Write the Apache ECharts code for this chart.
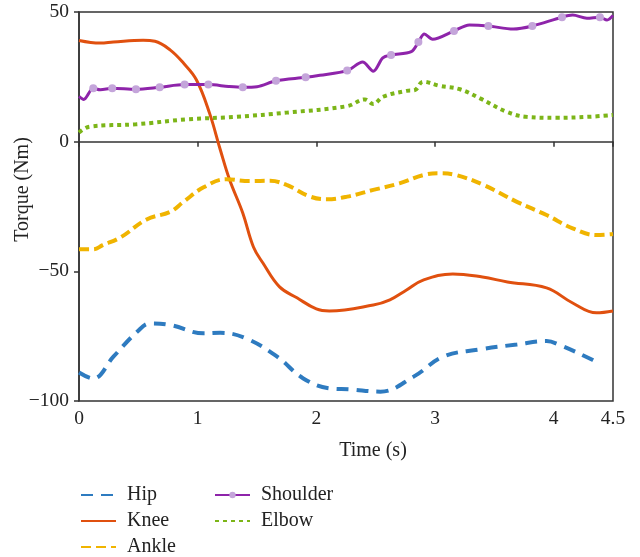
<!DOCTYPE html>
<html><head><meta charset="utf-8">
<script src="https://cdn.jsdelivr.net/npm/echarts@6/dist/echarts.min.js"></script>
<style>html,body{margin:0;padding:0;background:#fff}#c{width:640px;height:557px}</style>
</head><body><div id="c"></div>
<script>
const hipT = [0, 0.12, 0.29, 0.49, 0.6, 0.77, 1.05, 1.19, 1.41, 1.67, 1.89, 2.11, 2.28, 2.54, 2.82, 3.07, 3.38, 3.69, 3.94, 4.05, 4.33, 4.37];
const hipV = [-89, -91.3, -82.9, -73.3, -70.1, -70.7, -73.9, -73.7, -75.9, -82.9, -91.3, -95.1, -95.5, -96.4, -90.6, -82.9, -80.1, -78.2, -76.9, -78.4, -84.2, -85.5];
const kneeT = [0, 0.18, 0.29, 0.54, 0.64, 0.77, 0.88, 0.99, 1.10, 1.19, 1.27, 1.38, 1.47, 1.55, 1.69, 1.84, 2.0, 2.11, 2.48, 2.62, 2.76, 2.90, 3.15, 3.40, 3.61, 3.94, 4.16, 4.36, 4.5];
const kneeV = [39, 38, 38.4, 39.1, 38.7, 35.3, 30.3, 23.8, 11, -3, -14.8, -27.5, -40.6, -46.8, -56, -60.3, -64.5, -65.3, -63, -61, -57.2, -53.4, -51, -52.2, -54.1, -56.4, -62.2, -66, -65.3];
const ankleT = [0, 0.12, 0.20, 0.35, 0.57, 0.77, 0.88, 1.05, 1.24, 1.44, 1.61, 1.75, 1.95, 2.09, 2.26, 2.48, 2.70, 2.90, 3.04, 3.18, 3.41, 3.69, 3.94, 4.16, 4.36, 4.5];
const ankleV = [-41.5, -41.5, -39.9, -36.9, -30, -27, -23.2, -17.6, -14.5, -15.2, -15.1, -16.7, -21.2, -22.2, -21.2, -18.6, -16.1, -12.9, -12.2, -12.9, -16.7, -23.2, -28.3, -33.4, -36, -35.6];
const shoulderT = [0, 0.04, 0.12, 0.18, 0.28, 0.48, 0.68, 0.89, 1.09, 1.26, 1.38, 1.50, 1.66, 1.91, 2.03, 2.26, 2.39, 2.48, 2.56, 2.63, 2.80, 2.86, 2.91, 2.98, 3.16, 3.29, 3.45, 3.66, 3.82, 4.07, 4.16, 4.28, 4.39, 4.45, 4.5];
const shoulderV = [17.5, 16.3, 20.6, 20, 20.6, 20.2, 21, 22, 22, 21.3, 21.0, 21.2, 23.5, 24.8, 25.6, 27.4, 30.7, 27.2, 32.3, 33.4, 34.7, 38.4, 41.5, 39.5, 42.7, 45, 44.6, 43.4, 44.6, 48, 48.8, 47.6, 48, 46.9, 48.7];
const shoulderMarkT = [0.12, 0.28, 0.48, 0.68, 0.89, 1.09, 1.38, 1.66, 1.91, 2.26, 2.63, 2.86, 3.16, 3.45, 3.82, 4.07, 4.39];
const elbowT = [0, 0.09, 0.48, 0.91, 1.33, 1.75, 2.26, 2.41, 2.48, 2.56, 2.76, 2.83, 2.90, 3.04, 3.21, 3.38, 3.60, 3.77, 4.02, 4.30, 4.5];
const elbowV = [3.5, 5.8, 6.7, 8.6, 9.6, 11.2, 13.7, 16.3, 14.5, 17.3, 19.6, 19.9, 23.1, 21.5, 20.2, 16.7, 11.6, 9.6, 9.2, 9.6, 10.3];
const xTicks = {min: 0, max: 4.5, interval: 1};
const yTicks = {min: -100, max: 50, interval: 50};

const pairs = (t, v) => t.map((x, i) => [x, v[i]]);
const FONT = 'Liberation Serif';
const chart = echarts.init(document.getElementById('c'));
const lbl = {color: '#222', fontFamily: FONT, fontSize: 19.5, formatter: v => String(v).replace('-', '\u2212')};
const axisCommon = {
  axisLine: {lineStyle: {color: '#333', width: 1.5}},
  axisTick: {lineStyle: {color: '#333', width: 1.5}, length: 5},
  splitLine: {show: false},
  nameMoveOverlap: false
};
const noSym = {itemStyle: {opacity: 0, color: 'rgba(0,0,0,0)'}};
const legText = {fontFamily: FONT, fontSize: 20, color: '#222', padding: [0, 0, 0, 6]};
chart.setOption({
  animation: false,
  grid: {left: 79, right: 27, top: 12, bottom: 156, show: true, borderColor: '#333', borderWidth: 1.5,
         containLabel: false, outerBoundsMode: 'none'},
  xAxis: Object.assign({type: 'value', name: 'Time (s)', nameLocation: 'middle', nameGap: 40,
    nameTextStyle: {color: '#222', fontFamily: FONT, fontSize: 20, padding: [0, 0, 0, 54]}}, xTicks, axisCommon,
    {axisLabel: Object.assign({}, lbl, {showMaxLabel: true, margin: 8})}),
  yAxis: Object.assign({type: 'value', name: 'Torque (Nm)', nameLocation: 'middle', nameGap: 46, nameRotate: 90,
    nameTextStyle: {color: '#222', fontFamily: FONT, fontSize: 20, padding: [0, 0, 0, 34]}}, yTicks, axisCommon,
    {axisLabel: Object.assign({}, lbl, {margin: 10})}),
  legend: [
    {data: [Object.assign({name: 'Hip'}, noSym), Object.assign({name: 'Knee'}, noSym), Object.assign({name: 'Ankle'}, noSym)],
     orient: 'vertical', left: 75, top: 480, height: 100, itemWidth: 35, itemHeight: 14, itemGap: 6, textStyle: legText},
    {data: ['Shoulder', Object.assign({name: 'Elbow'}, noSym)],
     orient: 'vertical', left: 209, top: 480, height: 100, itemWidth: 35, itemHeight: 8, itemGap: 6, textStyle: legText}
  ],
  series: [
    {name: 'Hip', type: 'line', smooth: 0.4, symbol: 'none', data: pairs(hipT, hipV),
     lineStyle: {color: '#2e7bc0', width: 4, type: [12, 8]}, itemStyle: {color: '#2e7bc0'}},
    {name: 'Knee', type: 'line', smooth: 0.4, symbol: 'none', data: pairs(kneeT, kneeV),
     lineStyle: {color: '#e0500f', width: 3}, itemStyle: {color: '#e0500f'}},
    {name: 'Ankle', type: 'line', smooth: 0.4, symbol: 'none', data: pairs(ankleT, ankleV),
     lineStyle: {color: '#f0b400', width: 4, type: [10, 5]}, itemStyle: {color: '#f0b400'}},
    {name: 'Shoulder', type: 'line', smooth: 0.3, symbol: 'circle', symbolSize: 8, showSymbol: true, showAllSymbol: true,
     data: shoulderT.map((t, i) => ({value: [t, shoulderV[i]], symbol: shoulderMarkT.includes(t) ? 'circle' : 'none'})),
     lineStyle: {color: '#8e24aa', width: 3}, itemStyle: {color: '#c4a5da', borderWidth: 0}},
    {name: 'Elbow', type: 'line', smooth: 0.4, symbol: 'none', data: pairs(elbowT, elbowV),
     lineStyle: {color: '#7cb518', width: 4, type: [4, 4]}, itemStyle: {color: '#7cb518'}}
  ]
});
</script></body></html>
